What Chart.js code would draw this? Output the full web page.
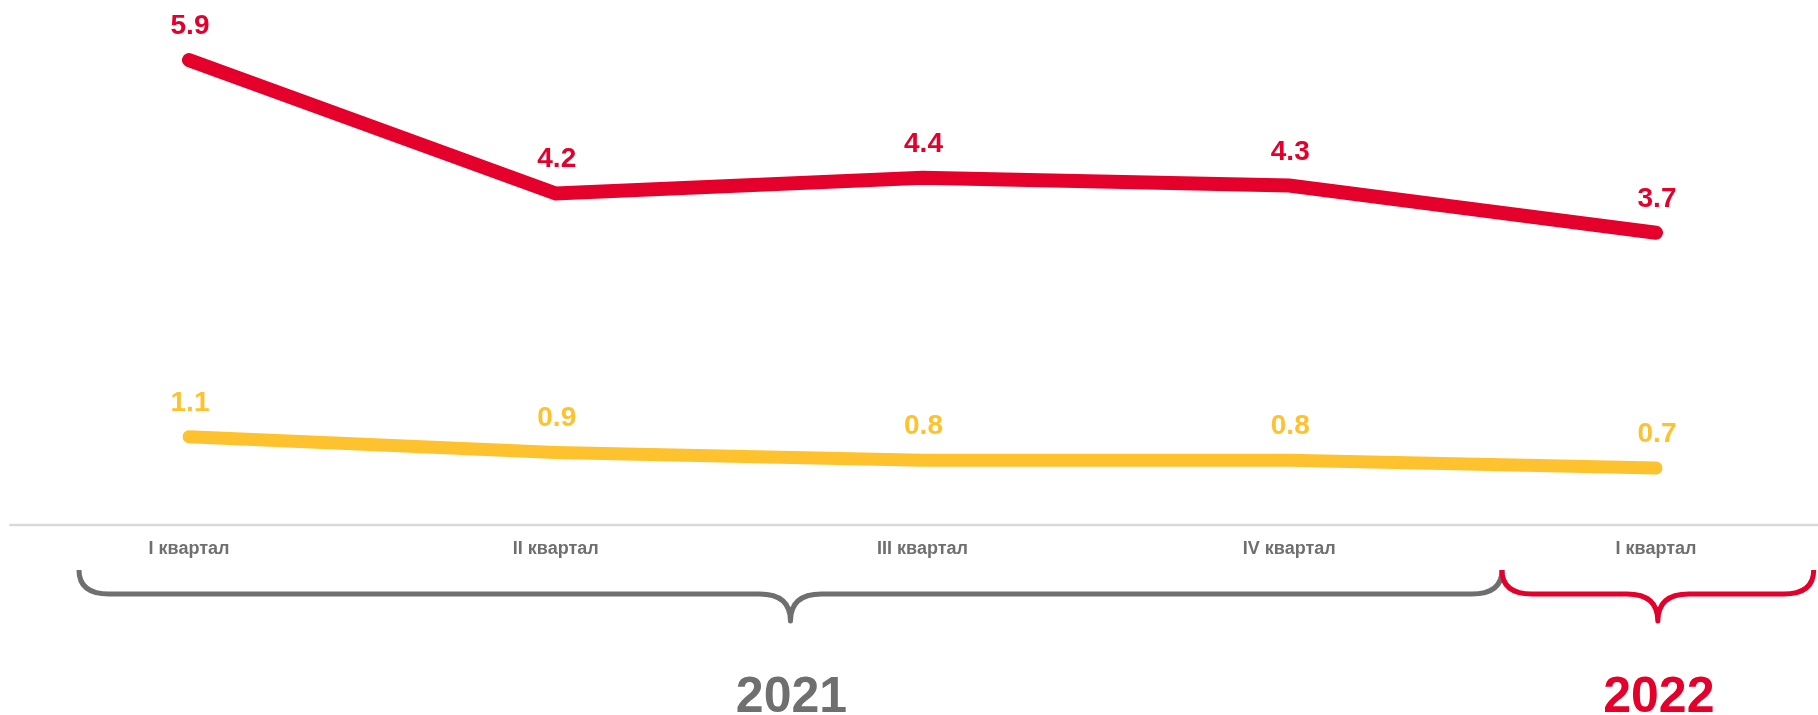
<!DOCTYPE html>
<html><head><meta charset="utf-8">
<style>html,body{margin:0;padding:0;background:#fff;}#wrap{width:1818px;height:715px;position:relative;}canvas{display:block;}</style>
<script src="https://cdn.jsdelivr.net/npm/chart.js@4.4.1/dist/chart.umd.min.js"></script>
</head><body><div id="wrap"><canvas id="c" width="1818" height="715"></canvas></div>
<script>
const categories = ['I квартал', 'II квартал', 'III квартал', 'IV квартал', 'I квартал'];
const seriesRed = [5.9, 4.2, 4.4, 4.3, 3.7];
const seriesYellow = [1.1, 0.9, 0.8, 0.8, 0.7];
const yearLabels = ['2021', '2022'];
const yearCategoryCounts = [4, 1];

const RED = '#e4002b', YELLOW = '#ffc22f', GRAY = '#6f6f6f', AXIS = '#d9d9d9';
const FONT = '"Liberation Sans", Arial, sans-serif';
const yearColors = [GRAY, RED];

const decor = {
  id: 'decor',
  beforeDatasetsDraw(chart) {
    const ctx = chart.ctx, xs = chart.scales.x, ys = chart.scales.y;
    const y0 = ys.getPixelForValue(0) + 2;
    ctx.save();
    ctx.strokeStyle = AXIS; ctx.lineWidth = 2.5;
    ctx.beginPath();
    ctx.moveTo(xs.getPixelForValue(-0.49), y0);
    ctx.lineTo(chart.width, y0);
    ctx.stroke();
    ctx.restore();
  },
  afterDatasetsDraw(chart) {
    const ctx = chart.ctx;
    ctx.save();
    ctx.font = 'bold 28px ' + FONT;
    ctx.textAlign = 'center';
    ctx.textBaseline = 'alphabetic';
    chart.data.datasets.forEach((ds, i) => {
      const meta = chart.getDatasetMeta(i);
      ctx.fillStyle = ds.borderColor;
      meta.data.forEach((pt, j) => {
        ctx.fillText(ds.data[j].toFixed(1), pt.x + 1, pt.y - 26);
      });
    });
    ctx.restore();
  },
  afterDraw(chart) {
    const ctx = chart.ctx, xs = chart.scales.x;
    const top = 570, mid = 594, tip = 621, r = 30, r2 = 31;
    let start = 0;
    ctx.save();
    yearLabels.forEach((yl, g) => {
      const n = yearCategoryCounts[g];
      const first = start, last = start + n - 1;
      const L = xs.getPixelForValue(first === 0 ? first - 0.3 : first - 0.42);
      const R = xs.getPixelForValue(last === categories.length - 1 ? last + 0.43 : last + 0.58);
      const C = (L + R) / 2;
      ctx.strokeStyle = yearColors[g];
      ctx.lineWidth = 5;
      ctx.lineCap = 'butt';
      ctx.lineJoin = 'round';
      ctx.beginPath();
      ctx.moveTo(L, top);
      ctx.quadraticCurveTo(L, mid, L + r, mid);
      ctx.lineTo(C - r2, mid);
      ctx.quadraticCurveTo(C, mid, C, tip);
      ctx.quadraticCurveTo(C, mid, C + r2, mid);
      ctx.lineTo(R - r, mid);
      ctx.quadraticCurveTo(R, mid, R, top);
      ctx.stroke();
      ctx.fillStyle = yearColors[g];
      ctx.font = 'bold 50px ' + FONT;
      ctx.textAlign = 'center';
      ctx.textBaseline = 'alphabetic';
      ctx.fillText(yl, C + 1, 712);
      start += n;
    });
    ctx.restore();
  }
};

new Chart(document.getElementById('c'), {
  type: 'line',
  data: {
    labels: categories,
    datasets: [
      { data: seriesRed, borderColor: RED, backgroundColor: RED, borderWidth: 14, pointRadius: 0, pointHoverRadius: 0, borderCapStyle: 'round', borderJoinStyle: 'miter', tension: 0, fill: false },
      { data: seriesYellow, borderColor: YELLOW, backgroundColor: YELLOW, borderWidth: 13, pointRadius: 0, pointHoverRadius: 0, borderCapStyle: 'round', borderJoinStyle: 'miter', tension: 0, fill: false }
    ]
  },
  options: {
    responsive: false,
    animation: false,
    devicePixelRatio: 1,
    layout: { padding: { left: 189, right: 162, top: 13, bottom: 0 } },
    plugins: { legend: { display: false }, tooltip: { enabled: false } },
    scales: {
      x: {
        offset: false,
        grid: { display: false, drawTicks: false },
        border: { display: false },
        ticks: { color: GRAY, font: { family: FONT, size: 18, weight: 'bold' }, padding: 15, maxRotation: 0, autoSkip: false },
        afterFit(scale) { scale.height = 192; }
      },
      y: {
        display: false,
        min: 0,
        max: 6.5
      }
    }
  },
  plugins: [decor]
});
</script>
</body></html>
